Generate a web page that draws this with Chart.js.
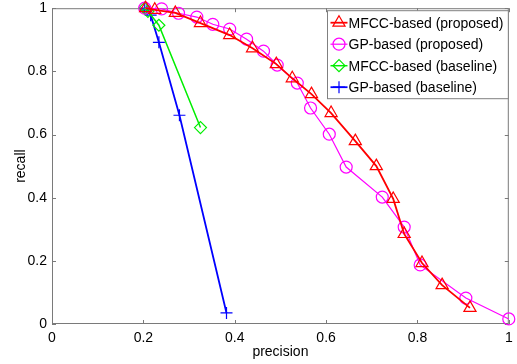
<!DOCTYPE html>
<html>
<head>
<meta charset="utf-8">
<script src="https://cdn.jsdelivr.net/npm/chart.js@4"></script>
<style>
  html, body { margin: 0; padding: 0; background: #fff; }
  #wrap { width: 517px; height: 364px; position: relative; }
</style>
</head>
<body>
<div id="wrap"><canvas id="prChart"></canvas></div>
<script>
/* ======================================
   DATA
====================================== */
const seriesNames = [
  "MFCC-based (proposed)",
  "GP-based (proposed)",
  "MFCC-based (baseline)",
  "GP-based (baseline)"
];

const mfccPropX = [0.205, 0.225, 0.27, 0.325, 0.389, 0.439, 0.491, 0.526, 0.568, 0.611, 0.664, 0.71, 0.747, 0.771, 0.81, 0.854, 0.915];
const mfccPropY = [1.0, 0.995, 0.985, 0.953, 0.915, 0.873, 0.823, 0.778, 0.728, 0.668, 0.579, 0.5, 0.396, 0.285, 0.193, 0.123, 0.051];

const gpPropX = [0.203, 0.24, 0.277, 0.317, 0.352, 0.389, 0.426, 0.463, 0.493, 0.537, 0.566, 0.607, 0.644, 0.723, 0.771, 0.806, 0.906, 1.0];
const gpPropY = [1.0, 0.998, 0.984, 0.972, 0.949, 0.934, 0.902, 0.864, 0.82, 0.763, 0.684, 0.601, 0.497, 0.402, 0.307, 0.187, 0.082, 0.016];

const mfccBaseX = [0.203, 0.21, 0.234, 0.325];
const mfccBaseY = [1.0, 0.99, 0.946, 0.622];

const gpBaseX = [0.203, 0.208, 0.216, 0.234, 0.279, 0.382];
const gpBaseY = [1.0, 0.995, 0.978, 0.892, 0.661, 0.035];

const axisTicks = [0, 0.2, 0.4, 0.6, 0.8, 1];

const FONT = "'Liberation Sans', Arial, Helvetica, sans-serif";
const AXIS_GRAY = "#7a7a7a";


/* ======================================
   HELPERS
====================================== */
function pts(xs, ys) {
  return xs.map((x, i) => ({ x: x, y: ys[i] }));
}

function series(label, data, color, style, lw, radius) {
  return {
    label: label,
    data: data,
    showLine: true,
    borderColor: color,
    borderWidth: lw,
    backgroundColor: "rgba(0,0,0,0)",
    pointStyle: style,
    pointRadius: radius,
    pointHoverRadius: radius,
    pointBorderColor: color,
    pointBackgroundColor: "rgba(0,0,0,0)",
    pointBorderWidth: 1.2,
    clip: false,
    tension: 0
  };
}

function tickText(v) {
  return String(Math.round(v * 10) / 10);
}


/* ======================================
   FRAME + INWARD TICKS
====================================== */
const framePlugin = {
  id: "frame",
  beforeDatasetsDraw(chart) {
    const { ctx, chartArea: a, scales } = chart;
    ctx.save();
    ctx.strokeStyle = AXIS_GRAY;
    ctx.lineWidth = 1;
    ctx.strokeRect(a.left + 0.5, a.top + 0.5, a.right - a.left - 1, a.bottom - a.top - 1);
    const tl = 4;
    axisTicks.forEach(v => {
      const px = Math.round(scales.x.getPixelForValue(v)) + 0.5;
      ctx.beginPath();
      ctx.moveTo(px, a.bottom); ctx.lineTo(px, a.bottom - tl);
      ctx.moveTo(px, a.top); ctx.lineTo(px, a.top + tl);
      ctx.stroke();
      const py = Math.round(scales.y.getPixelForValue(v)) + 0.5;
      ctx.beginPath();
      ctx.moveTo(a.left, py); ctx.lineTo(a.left + tl, py);
      ctx.moveTo(a.right, py); ctx.lineTo(a.right - tl, py);
      ctx.stroke();
    });
    ctx.restore();
  }
};


/* ======================================
   LEGEND (inside, top right)
====================================== */
const boxLegend = {
  id: "boxLegend",
  afterDraw(chart) {
    const { ctx, chartArea: a } = chart;
    const sets = chart.data.datasets;
    ctx.save();
    ctx.font = "14px " + FONT;
    const textW = Math.max(...sets.map(d => ctx.measureText(d.label).width));
    const w = 21 + textW + 5;
    const h = 88;
    const left = Math.round(a.right - 1 - w) + 0.5;
    const top = a.top + 2.5;
    ctx.fillStyle = "#fff";
    ctx.fillRect(left, top, w, h);
    ctx.strokeStyle = "#808080";
    ctx.lineWidth = 1;
    ctx.strokeRect(left, top, w, h);

    sets.forEach((d, i) => {
      const y = top + 12 + i * 21.5;
      ctx.strokeStyle = d.borderColor;
      ctx.lineWidth = d.borderWidth;
      ctx.beginPath();
      ctx.moveTo(left + 3, y);
      ctx.lineTo(left + 20, y);
      ctx.stroke();
      ctx.strokeStyle = d.pointBorderColor;
      ctx.fillStyle = "rgba(0,0,0,0)";
      ctx.lineWidth = d.pointBorderWidth;
      Chart.helpers.drawPoint(ctx, {
        pointStyle: d.pointStyle,
        rotation: 0,
        radius: d.pointRadius,
        borderWidth: d.pointBorderWidth
      }, left + 11.5, y);
      ctx.fillStyle = "#000";
      ctx.textBaseline = "middle";
      ctx.textAlign = "left";
      ctx.fillText(d.label, left + 21, y + 1);
    });
    ctx.restore();
  }
};


/* ======================================
   CHART
====================================== */
document.addEventListener("DOMContentLoaded", () => {
  const canvas = document.getElementById("prChart");

  const datasets = [
    series(seriesNames[0], pts(mfccPropX, mfccPropY), "#ff0000", "triangle", 1.8, 7),
    series(seriesNames[1], pts(gpPropX, gpPropY), "#ff00ff", "circle", 1.2, 6),
    series(seriesNames[2], pts(mfccBaseX, mfccBaseY), "#00ee00", "rectRot", 1.5, 6),
    series(seriesNames[3], pts(gpBaseX, gpBaseY), "#0000ff", "cross", 1.8, 6)
  ];

  new Chart(canvas, {
    type: "scatter",
    data: { datasets: datasets },
    options: {
      responsive: true,
      maintainAspectRatio: false,
      animation: false,
      events: [],
      layout: { padding: 0 },
      plugins: {
        legend: { display: false },
        tooltip: { enabled: false }
      },
      scales: {
        x: {
          type: "linear",
          min: 0,
          max: 1,
          afterFit(s) {
            s.height = 40;
            s.paddingLeft = 0;
            s.paddingRight = 7;
          },
          afterBuildTicks(s) { s.ticks = axisTicks.map(v => ({ value: v })); },
          grid: { display: false, drawTicks: false },
          border: { display: false },
          ticks: {
            color: "#000",
            padding: 6,
            maxRotation: 0,
            font: { family: FONT, size: 14 },
            callback: tickText
          },
          title: {
            display: true,
            text: "precision",
            color: "#000",
            font: { family: FONT, size: 14 },
            padding: { top: 0, bottom: 3 }
          }
        },
        y: {
          type: "linear",
          min: 0,
          max: 1,
          afterFit(s) {
            s.width = 52;
            s.paddingTop = 8;
            s.paddingBottom = 0;
          },
          afterBuildTicks(s) { s.ticks = axisTicks.map(v => ({ value: v })); },
          grid: { display: false, drawTicks: false },
          border: { display: false },
          ticks: {
            color: "#000",
            padding: 5,
            font: { family: FONT, size: 14 },
            callback: tickText
          },
          title: {
            display: true,
            text: "recall",
            color: "#000",
            font: { family: FONT, size: 14 },
            padding: { top: 13, bottom: 0 }
          }
        }
      }
    },
    plugins: [framePlugin, boxLegend]
  });
});
</script>
</body>
</html>
